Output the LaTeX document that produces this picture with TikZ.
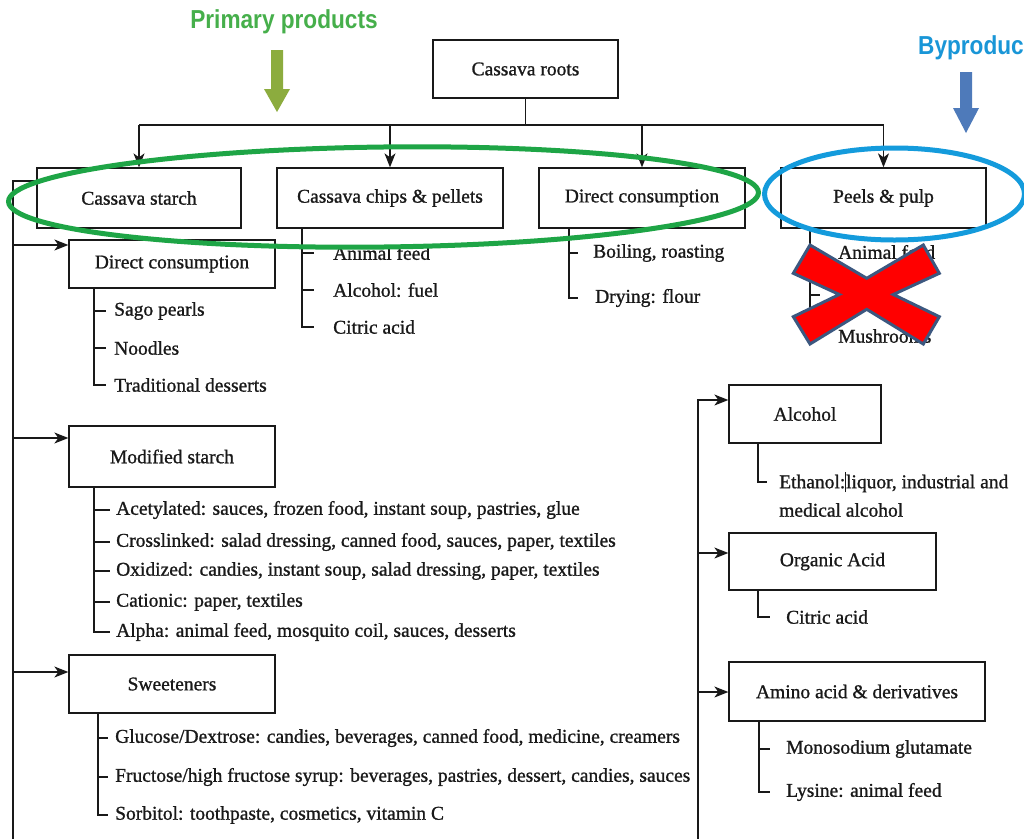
\documentclass[tikz,border=0pt]{standalone}
\usepackage{fontspec}
\setmainfont{Liberation Serif}[FakeBold=1]
\newfontfamily\headfont{Liberation Sans}
\usetikzlibrary{arrows.meta}
\definecolor{ink}{RGB}{25,25,25}
\definecolor{primgreen}{RGB}{70,175,75}
\definecolor{ringgreen}{RGB}{30,165,70}
\definecolor{olive}{RGB}{140,172,62}
\definecolor{bytext}{RGB}{25,150,215}
\definecolor{ringblue}{RGB}{20,155,220}
\definecolor{steel}{RGB}{78,122,186}
\definecolor{crossred}{RGB}{255,0,0}
\definecolor{crossedge}{RGB}{60,88,128}
\begin{document}
\begin{tikzpicture}[x=1pt,y=-1pt,
  font=\fontsize{19.5}{23}\selectfont,
  box/.style={draw=ink,line width=1.3pt,rectangle,inner sep=0pt,text=ink},
  link/.style={draw=ink,line width=1.3pt},
  arr/.style={link,-{Stealth[length=14pt,width=11pt,inset=4pt]}},
  item/.style={anchor=west,inner ysep=0pt,inner xsep=#1,text=ink},
  item/.default=10pt,
  head/.style={font=\headfont\bfseries\fontsize{26}{30}\selectfont}]
\useasboundingbox (0,0) rectangle (1024,838);
\clip (0,0) rectangle (1024,838);
\fill[white] (0,0) rectangle (1024,838);

% ---------- main boxes ----------
\node[box,minimum width=185pt,minimum height=58pt] (roots) at (525.5,69) {Cassava roots};
\node[box,minimum width=204pt,minimum height=60pt] (starch) at (139,198) {Cassava starch};
\node[box,minimum width=226pt,minimum height=60pt] (chips) at (390,198) {Cassava chips \& pellets};
\node[box,minimum width=206pt,minimum height=60pt] (direct) at (642,198) {Direct consumption};
\node[box,minimum width=205pt,minimum height=60pt] (peels) at (883.5,198) {Peels \& pulp};

\node[box,minimum width=206pt,minimum height=48pt] (dcs) at (172,264) {Direct consumption};
\node[box,minimum width=206pt,minimum height=61pt] (mod) at (172,456.5) {Modified starch};
\node[box,minimum width=206pt,minimum height=58pt] (sweet) at (172,684) {Sweeteners};

\node[box,minimum width=152pt,minimum height=58pt] (alcohol) at (805,414) {Alcohol};
\node[box,minimum width=207pt,minimum height=57pt] (organic) at (832.5,561.5) {Organic Acid};
\node[box,minimum width=256pt,minimum height=59pt] (amino) at (857,691.5) {Amino acid \& derivatives};

% ---------- distribution bus from the roots ----------
\coordinate (bus) at (525.5,125);
\draw[link] (roots.south) -- (bus);
\draw[link] (bus -| starch.north) -- (bus -| peels.north);
\foreach \n in {starch,chips,direct,peels}
  \draw[arr] (bus -| \n.north) -- (\n.north);

% ---------- starch trunk (left) ----------
\coordinate (ltop) at (13,181);
\coordinate (lend) at (13,842);
\draw[link] (starch.west |- ltop) -- (ltop) -- (lend);
\coordinate (lb1) at (13,245);
\coordinate (lb2) at (13,438);
\coordinate (lb3) at (13,672);
\draw[arr] (lb1) -- (lb1 -| dcs.west);
\draw[arr] (lb2) -- (lb2 -| mod.west);
\draw[arr] (lb3) -- (lb3 -| sweet.west);

% ---------- fermentation trunk (right) ----------
\coordinate (rtop) at (698,400);
\coordinate (rend) at (698,842);
\coordinate (rb2) at (698,553);
\coordinate (rb3) at (698,692);
\draw[arr] (rend) -- (rtop) -- (rtop -| alcohol.west);
\draw[arr] (rb2) -- (rb2 -| organic.west);
\draw[arr] (rb3) -- (rb3 -| amino.west);

% ---------- item lists ----------
% chips & pellets
\coordinate (cv) at (302,0);
\node[item=19pt] (ca1) at (314,253) {Animal feed};
\node[item=19pt] (ca2) at (314,290) {Alcohol: fuel};
\node[item=19pt] (ca3) at (314,327) {Citric acid};
\draw[link] (chips.south -| cv) |- (ca3.west);
\draw[link] (cv |- ca1.west) -- (ca1.west);
\draw[link] (cv |- ca2.west) -- (ca2.west);

% direct consumption (fresh roots)
\coordinate (dv) at (569,0);
\node[item=15pt] (dr1) at (578,253) {Boiling, roasting};
\node[item=17pt] (dr2) at (578,298) {Drying: flour};
\draw[link] (direct.south -| dv) |- (dr2.west);
\draw[link] (dv |- dr1.west) -- (dr1.west);

% peels & pulp
\coordinate (pv) at (810,0);
\coordinate (pm) at (820,295);
\node[item=18pt] (pp1) at (820,252) {Animal feed};
\node[item=18pt] (pp3) at (820,336) {Mushrooms};
\draw[link] (peels.south -| pv) |- (pp3.west);
\draw[link] (pv |- pp1.west) -- (pp1.west);
\draw[link] (pv |- pm) -- (pm);

% starch: direct consumption
\coordinate (sv) at (94,0);
\node[item=8pt] (s1) at (106,311) {Sago pearls};
\node[item=8pt] (s2) at (106,348) {Noodles};
\node[item=8pt] (s3) at (106,385) {Traditional desserts};
\draw[link] (dcs.south -| sv) |- (s3.west);
\draw[link] (sv |- s1.west) -- (s1.west);
\draw[link] (sv |- s2.west) -- (s2.west);

% modified starch
\coordinate (mv) at (94,0);
\node[item=6pt] (m1) at (110,510) {Acetylated: sauces, frozen food, instant soup, pastries, glue};
\node[item=6pt] (m2) at (110,542) {Crosslinked: salad dressing, canned food, sauces, paper, textiles};
\node[item=6pt] (m3) at (110,571) {Oxidized: candies, instant soup, salad dressing, paper, textiles};
\node[item=6pt] (m4) at (110,602) {Cationic: paper, textiles};
\node[item=6pt] (m5) at (110,632) {Alpha: animal feed, mosquito coil, sauces, desserts};
\draw[link] (mod.south -| mv) |- (m5.west);
\foreach \m in {m1,m2,m3,m4}
  \draw[link] (mv |- \m.west) -- (\m.west);

% sweeteners
\coordinate (wv) at (98,0);
\node[item=7pt] (w1) at (108,738) {Glucose/Dextrose: candies, beverages, canned food, medicine, creamers};
\node[item=7pt] (w2) at (108,777) {Fructose/high fructose syrup: beverages, pastries, dessert, candies, sauces};
\node[item=7pt] (w3) at (108,815) {Sorbitol: toothpaste, cosmetics, vitamin C};
\draw[link] (sweet.south -| wv) |- (w3.west);
\draw[link] (wv |- w1.west) -- (w1.west);
\draw[link] (wv |- w2.west) -- (w2.west);

% alcohol
\coordinate (av) at (758,0);
\node[item=12pt] (e1) at (767,482) {Ethanol:\rule[-0.2em]{0.8pt}{1.05em}liquor, industrial and};
\node[item=12pt] (e2) at (767,510) {medical alcohol};
\draw[link] (alcohol.south -| av) |- (e1.west);

% organic acid
\node[item=16pt] (o1) at (770,617) {Citric acid};
\draw[link] (organic.south -| av) |- (o1.west);

% amino acids
\coordinate (nv) at (759,0);
\node[item=16pt] (n1) at (770,749) {Monosodium glutamate};
\node[item=16pt] (n2) at (770,792) {Lysine: animal feed};
\draw[link] (amino.south -| nv) |- (n2.west);
\draw[link] (nv |- n1.west) -- (n1.west);

% ---------- highlights ----------
\node[head,text=primgreen,inner sep=0pt] (prim) at (284,22) {\scalebox{0.87}[1]{Primary products}};
\fill[olive] (271,50) -- (283,50) -- (283,89) -- (290,89) -- (277,112) -- (264,89) -- (271,89) -- cycle;

\node[head,text=bytext,inner sep=0pt,anchor=west] (byp) at (918,48) {\scalebox{0.87}[1]{Byproducts}};
\fill[steel] (960,72) -- (972,72) -- (972,108) -- (979,108) -- (966,133) -- (953,108) -- (960,108) -- cycle;

\draw[ringgreen,line width=5pt,rotate around={0.7:(383.5,198)}] (383.5,197) ellipse [x radius=375pt,y radius=50pt];
\draw[ringblue,line width=5pt] (894.5,194) ellipse [x radius=130pt,y radius=46pt];

% red cross over the byproduct uses
\filldraw[fill=crossred,draw=crossedge,line width=3pt,line join=miter]
  (810,245) -- (866.7,278.3) -- (923.3,245) -- (939.3,273.3) -- (893.3,294.5)
  -- (939.3,316.7) -- (923.3,344) -- (866.7,309.3) -- (810,344) -- (793.3,316.7)
  -- (839.3,294.5) -- (793.3,273.3) -- cycle;
\end{tikzpicture}
\end{document}
